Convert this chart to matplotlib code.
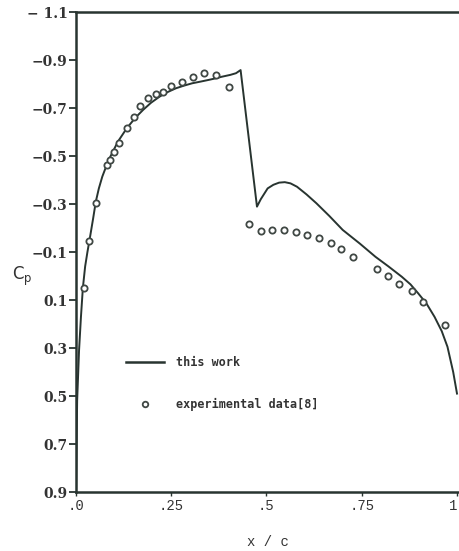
import numpy as np
import matplotlib
matplotlib.use('Agg')
import matplotlib.pyplot as plt
from matplotlib.lines import Line2D

# ================================
# Data
# ================================
# computed Cp distribution ("this work")
calc_x = [0.0, 0.003, 0.008, 0.013, 0.018, 0.024, 0.030, 0.037, 0.045, 0.052,
          0.060, 0.069, 0.080, 0.090, 0.110, 0.133, 0.155, 0.176, 0.197, 0.219,
          0.240, 0.262, 0.283, 0.305, 0.327, 0.348, 0.365, 0.382, 0.405, 0.420,
          0.432, 0.475, 0.485, 0.495, 0.503, 0.518, 0.533, 0.548, 0.563, 0.580,
          0.605, 0.631, 0.665, 0.700, 0.745, 0.786, 0.820, 0.855, 0.878, 0.898,
          0.920, 0.941, 0.960, 0.975, 0.990, 1.0]
calc_cp = [0.90, 0.52, 0.31, 0.17, 0.05, -0.04, -0.10, -0.164, -0.24, -0.31,
           -0.365, -0.414, -0.46, -0.497, -0.56, -0.615, -0.658, -0.692, -0.722, -0.747,
           -0.766, -0.782, -0.793, -0.803, -0.810, -0.817, -0.823, -0.830, -0.838, -0.845,
           -0.858, -0.289, -0.32, -0.345, -0.365, -0.380, -0.389, -0.391, -0.386, -0.372,
           -0.340, -0.303, -0.250, -0.192, -0.135, -0.080, -0.040, 0.003, 0.035, 0.072,
           0.115, 0.170, 0.230, 0.295, 0.40, 0.49]

# experimental data [8]
exp_x = [0.021, 0.033, 0.052, 0.082, 0.090, 0.100, 0.112, 0.133, 0.152, 0.169,
         0.189, 0.210, 0.229, 0.249, 0.277, 0.307, 0.337, 0.368, 0.402, 0.455,
         0.485, 0.515, 0.546, 0.577, 0.607, 0.637, 0.668, 0.696, 0.726, 0.789,
         0.818, 0.848, 0.881, 0.911, 0.968]
exp_cp = [0.05, -0.147, -0.305, -0.462, -0.483, -0.518, -0.555, -0.615, -0.661, -0.710,
          -0.740, -0.758, -0.768, -0.792, -0.807, -0.828, -0.847, -0.838, -0.786, -0.215,
          -0.187, -0.192, -0.192, -0.182, -0.171, -0.157, -0.139, -0.111, -0.080, -0.029,
          -0.001, 0.033, 0.061, 0.110, 0.204]

y_ticks = [-1.1, -0.9, -0.7, -0.5, -0.3, -0.1, 0.1, 0.3, 0.5, 0.7, 0.9]
y_labels = ['\u2212 1.1', '\u22120.9', '\u22120.7', '\u22120.5', '\u22120.3', '\u22120.1',
            '0.1', '0.3', '0.5', '0.7', '0.9']
x_ticks = [0.0, 0.25, 0.5, 0.75, 1.0]
x_labels = ['.0', '.25', '.5', '.75', '1']

INK = '#283430'

fig = plt.figure(figsize=(4.6, 5.51), dpi=100)
# axes run to the right edge of the (cropped) scan; x = 1 sits at ~457 px
ax = fig.add_axes([76 / 460, 59 / 551, 384 / 460, 480 / 551])

ax.plot(calc_x, calc_cp, color=INK, linewidth=1.4, label='this work')
ax.plot(exp_x, exp_cp, linestyle='none', marker='o', markersize=4.5,
        markerfacecolor='white', markeredgecolor='#404844', markeredgewidth=1.3,
        label='experimental data[8]')

ax.set_xlim(0, 384 / 381)
ax.set_ylim(0.9, -1.1)

ax.set_yticks(y_ticks)
ax.set_yticklabels(y_labels, family='DejaVu Serif', fontsize=10, fontweight='bold',
                   color='#333333')
ax.set_xticks(x_ticks)
ax.set_xticklabels(x_labels, family='Liberation Mono', fontsize=10, color='#333333')
ax.get_xticklabels()[-1].set_horizontalalignment('right')
ax.tick_params(axis='y', direction='out', length=5, width=1.3, pad=1, colors=INK,
               labelcolor='#333333')
ax.tick_params(axis='x', direction='out', length=3, width=1.0, pad=2, colors=INK,
               labelcolor='#333333')

for side in ['left', 'top', 'bottom']:
    ax.spines[side].set_linewidth(1.8)
    ax.spines[side].set_color(INK)
ax.spines['right'].set_visible(False)

ax.set_xlabel('x / c', family='Liberation Mono', fontsize=10, labelpad=16, color='#333333')
ax.set_ylabel('C$_\\mathregular{p}$', rotation=0, fontsize=12, color='#333333',
              family='DejaVu Sans', va='center', ha='center')
ax.yaxis.set_label_coords(-0.139, 0.45)

handles = [Line2D([], [], color=INK, linewidth=1.8),
           Line2D([], [], linestyle='none', marker='o', markersize=4,
                  markerfacecolor='white', markeredgecolor='#404844', markeredgewidth=1.3)]
ax.legend(handles, ['this work', 'experimental data[8]'], loc='center left',
          bbox_to_anchor=(0.131, 0.226), frameon=False, borderpad=0, borderaxespad=0,
          handlelength=3.2, handletextpad=1.0, labelspacing=2.4, numpoints=1,
          prop={'family': 'DejaVu Sans Mono', 'weight': 'bold', 'size': 8.5},
          labelcolor='#333333')

fig.savefig('out.png', dpi=100)
